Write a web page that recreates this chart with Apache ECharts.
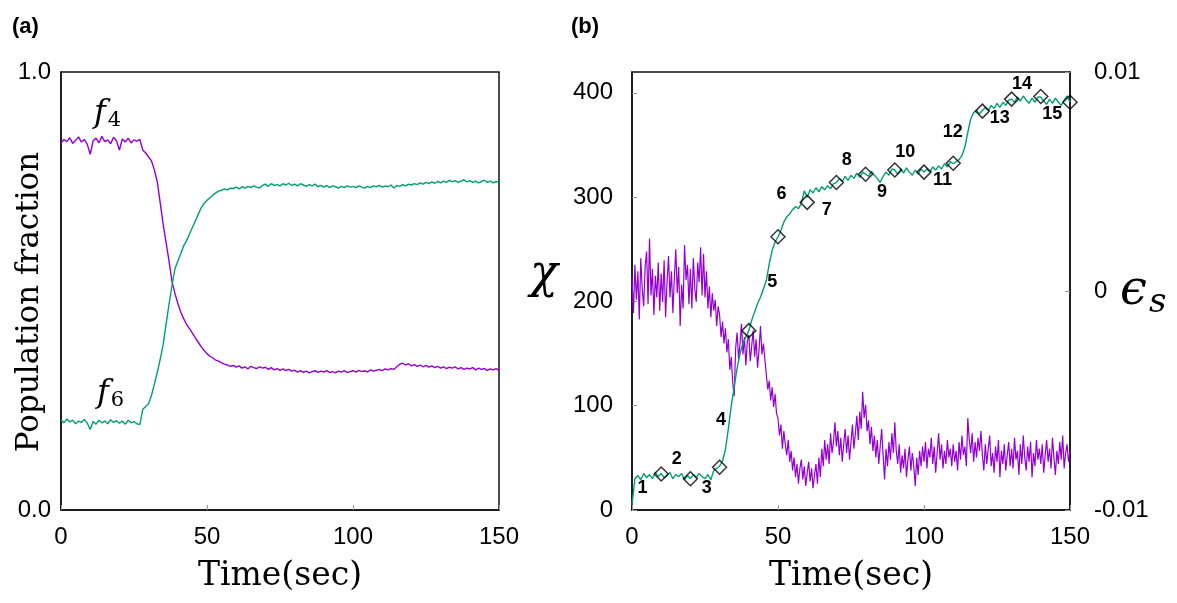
<!DOCTYPE html>
<html>
<head>
<meta charset="utf-8">
<script src="https://cdn.jsdelivr.net/npm/echarts@6/dist/echarts.min.js"></script>
<style>
  html, body { margin: 0; padding: 0; background: #fff; }
  #chart { width: 1177px; height: 603px; }
</style>
</head>
<body>
<div id="chart"></div>
<script>
// sampling steps (sec)
const sampleStep = 1;
const epsStep = 0.5;

// (a) population fractions, one value per second, t = 0..150
const f4 = [
  0.838,0.846,0.841,0.850,0.837,0.844,0.852,0.840,0.846,0.835,
  0.812,0.843,0.849,0.838,0.853,0.841,0.845,0.836,0.851,0.843,
  0.822,0.847,0.840,0.849,0.838,0.845,0.842,0.846,0.822,0.815,
  0.806,0.797,0.776,0.748,0.700,0.652,0.610,0.568,0.522,0.495,
  0.472,0.452,0.437,0.424,0.414,0.404,0.393,0.383,0.373,0.364,
  0.357,0.351,0.347,0.342,0.340,0.336,0.333,0.331,0.328,0.330,
  0.326,0.329,0.324,0.327,0.322,0.328,0.325,0.323,0.327,0.324,
  0.326,0.321,0.325,0.320,0.323,0.319,0.322,0.318,0.321,0.317,
  0.319,0.315,0.318,0.314,0.317,0.313,0.316,0.318,0.314,0.317,
  0.315,0.318,0.314,0.316,0.313,0.317,0.315,0.318,0.314,0.316,
  0.318,0.315,0.319,0.316,0.318,0.315,0.320,0.317,0.319,0.321,
  0.318,0.322,0.320,0.323,0.321,0.327,0.333,0.335,0.331,0.334,
  0.329,0.332,0.328,0.331,0.327,0.330,0.326,0.329,0.325,0.328,
  0.324,0.327,0.323,0.326,0.324,0.327,0.322,0.325,0.321,0.324,
  0.322,0.325,0.320,0.324,0.321,0.323,0.319,0.322,0.320,0.323,0.319
];
const f6 = [
  0.206,0.199,0.208,0.201,0.205,0.197,0.203,0.200,0.207,0.198,
  0.184,0.202,0.196,0.205,0.199,0.203,0.197,0.206,0.200,0.204,
  0.198,0.203,0.196,0.205,0.199,0.202,0.197,0.195,0.230,0.236,
  0.243,0.262,0.288,0.315,0.345,0.378,0.425,0.470,0.512,0.550,
  0.568,0.585,0.603,0.615,0.630,0.645,0.660,0.675,0.690,0.700,
  0.707,0.713,0.719,0.724,0.728,0.730,0.733,0.731,0.735,0.734,
  0.737,0.733,0.738,0.735,0.739,0.736,0.740,0.737,0.735,0.741,
  0.744,0.739,0.745,0.741,0.743,0.740,0.745,0.742,0.746,0.741,
  0.744,0.740,0.745,0.742,0.739,0.743,0.740,0.744,0.738,0.741,
  0.737,0.741,0.736,0.740,0.738,0.735,0.739,0.736,0.740,0.737,
  0.739,0.736,0.740,0.737,0.735,0.739,0.736,0.740,0.738,0.741,
  0.737,0.740,0.738,0.742,0.735,0.741,0.739,0.743,0.740,0.744,
  0.742,0.745,0.743,0.747,0.744,0.748,0.745,0.749,0.746,0.750,
  0.747,0.751,0.748,0.753,0.749,0.752,0.748,0.751,0.754,0.749,
  0.752,0.748,0.751,0.747,0.750,0.753,0.748,0.751,0.747,0.750,0.749
];

// (b) chi (left axis), one value per second, t = 0..150
const chi = [
  5,30,33,29,35,31,34,30,36,32,
  35,31,33,36,30,34,32,35,29,33,
  30,34,31,35,32,30,34,29,38,40,
  42,47,58,78,100,118,136,150,160,166,
  172,182,190,198,204,212,220,236,249,257,
  262,268,276,281,284,288,291,289,294,306,
  300,307,304,309,305,310,307,311,308,313,
  314,318,315,320,316,321,318,323,319,324,
  322,320,325,321,318,314,320,324,321,327,
  326,322,327,323,328,324,321,326,322,327,
  324,327,324,329,326,330,327,332,329,334,
  332,334,336,340,348,362,375,381,383,380,
  383,386,383,388,385,390,386,391,388,393,
  394,391,396,392,397,393,390,395,391,396,
  396,392,389,394,390,395,391,388,393,397,391
];

// (b) epsilon_s (right axis), every 0.5 s, t = 0..150
const epsS = [
  0.0006,-0.0010,0.0012,-0.0004,0.0009,-0.0013,0.0015,0.0001,-0.0007,0.0011,
  0.0018,-0.0006,0.0024,-0.0002,0.0010,-0.0011,0.0007,-0.0003,0.0013,-0.0009,
  0.0008,-0.0005,0.0014,-0.0012,0.0004,0.0016,-0.0003,0.0009,-0.0010,0.0006,
  0.0019,-0.0001,0.0011,-0.0016,0.0003,-0.0008,0.0021,0.0005,0.0012,-0.0006,
  0.0010,-0.0008,0.0015,0.0001,-0.0005,0.0013,0.0004,0.0020,-0.0002,0.0017,
  -0.0003,0.0009,-0.0008,0.0002,-0.0012,-0.0001,-0.0009,-0.0004,-0.0016,-0.0007,
  -0.0011,-0.0021,-0.0014,-0.0024,-0.0017,-0.0028,-0.0022,-0.0036,-0.0030,-0.0042,
  -0.0048,-0.0026,-0.0019,-0.0031,-0.0024,-0.0015,-0.0029,-0.0021,-0.0034,-0.0023,
  -0.0020,-0.0032,-0.0025,-0.0018,-0.0030,-0.0022,-0.0035,-0.0027,-0.0016,-0.0029,
  -0.0024,-0.0031,-0.0038,-0.0045,-0.0041,-0.0050,-0.0044,-0.0053,-0.0047,-0.0056,
  -0.0058,-0.0066,-0.0061,-0.0072,-0.0064,-0.0070,-0.0075,-0.0068,-0.0078,-0.0073,
  -0.0082,-0.0076,-0.0085,-0.0079,-0.0088,-0.0081,-0.0077,-0.0086,-0.0080,-0.0089,
  -0.0083,-0.0078,-0.0087,-0.0081,-0.0090,-0.0084,-0.0079,-0.0088,-0.0076,-0.0085,
  -0.0072,-0.0080,-0.0068,-0.0077,-0.0070,-0.0079,-0.0065,-0.0074,-0.0069,-0.0060,
  -0.0071,-0.0064,-0.0075,-0.0067,-0.0078,-0.0070,-0.0063,-0.0074,-0.0066,-0.0077,
  -0.0069,-0.0061,-0.0072,-0.0065,-0.0057,-0.0068,-0.0055,-0.0063,-0.0046,-0.0058,
  -0.0052,-0.0064,-0.0059,-0.0070,-0.0062,-0.0073,-0.0066,-0.0076,-0.0068,-0.0079,
  -0.0071,-0.0063,-0.0075,-0.0086,-0.0072,-0.0080,-0.0069,-0.0077,-0.0065,-0.0074,
  -0.0060,-0.0073,-0.0079,-0.0070,-0.0083,-0.0075,-0.0081,-0.0072,-0.0085,-0.0077,
  -0.0071,-0.0082,-0.0074,-0.0080,-0.0089,-0.0076,-0.0084,-0.0073,-0.0080,-0.0071,
  -0.0078,-0.0069,-0.0081,-0.0072,-0.0076,-0.0067,-0.0079,-0.0071,-0.0083,-0.0074,
  -0.0065,-0.0077,-0.0070,-0.0081,-0.0073,-0.0079,-0.0068,-0.0076,-0.0072,-0.0080,
  -0.0070,-0.0078,-0.0073,-0.0082,-0.0069,-0.0077,-0.0066,-0.0075,-0.0071,-0.0080,
  -0.0058,-0.0068,-0.0074,-0.0065,-0.0078,-0.0069,-0.0076,-0.0067,-0.0073,-0.0064,
  -0.0075,-0.0082,-0.0070,-0.0079,-0.0072,-0.0066,-0.0080,-0.0074,-0.0083,-0.0071,
  -0.0078,-0.0068,-0.0085,-0.0073,-0.0079,-0.0070,-0.0082,-0.0075,-0.0069,-0.0080,
  -0.0072,-0.0081,-0.0067,-0.0077,-0.0073,-0.0084,-0.0070,-0.0079,-0.0066,-0.0076,
  -0.0082,-0.0071,-0.0078,-0.0069,-0.0085,-0.0074,-0.0080,-0.0068,-0.0077,-0.0072,
  -0.0079,-0.0070,-0.0083,-0.0075,-0.0068,-0.0078,-0.0072,-0.0081,-0.0067,-0.0076,
  -0.0084,-0.0073,-0.0079,-0.0069,-0.0077,-0.0066,-0.0081,-0.0074,-0.0070,-0.0078,
  -0.0073
];

// numbered marks on chi
const stepTimes = [10,20,30,40,50,60,70,80,90,100,110,120,130,140,150];
const stepChi = [34.5,30,41,172,262,295,314,322,326,324,332.5,382.5,394,396.5,391];
const stepLabels = ["1","2","3","4","5","6","7","8","9","10","11","12","13","14","15"];

const xTicks = [0, 50, 100, 150];
const fracTicks = [0, 1];
const chiTicks = [0, 100, 200, 300, 400];
const epsTicks = [-0.01, 0, 0.01];

// label placement relative to each diamond centre (px)
const labelOffsets = [
  [-18,15],[-13,-19],[-12,22],[-27,90],[-5,46],[-25,-8],[-9,28],[-18,-13],
  [-12,23],[-18,-19],[-10,18],[-29,22],[-11,20],[-18,-12],[-17,13]
];

const PURPLE = "#9400d3";
const GREEN = "#009e73";
const DIAMOND = 14;
const tickFont = { fontFamily: "Liberation Sans", fontSize: 24, color: "#000" };
const serif = "DejaVu Serif";

const pairs = (arr, step) => arr.map((v, i) => [i * step, v]);

function xAxisFor(gridIndex) {
  return {
    type: "value", gridIndex: gridIndex,
    min: xTicks[0], max: xTicks[xTicks.length - 1], interval: xTicks[1] - xTicks[0],
    axisLine: { show: true, lineStyle: { color: "#111", width: 1.5 } },
    axisTick: { inside: true, length: 5, lineStyle: { color: "#999" } },
    axisLabel: Object.assign({ margin: 15 }, tickFont),
    splitLine: { show: false },
    name: "Time(sec)", nameLocation: "middle", nameGap: 50,
    nameTextStyle: { fontFamily: serif, fontSize: 33, color: "#000" }
  };
}

// subscripted symbol like f_4
function subText(main, sub, size, subSize, drop) {
  return {
    text: "{m|" + main + "}{s|" + sub + "}",
    rich: {
      m: { fontFamily: serif, fontStyle: "italic", fontSize: size, fill: "#000" },
      s: { fontFamily: serif, fontSize: subSize, fill: "#000", padding: [drop, 0, 0, 2] }
    }
  };
}

let chart = echarts.init(document.getElementById("chart"));
chart.setOption({
  animation: false,
  backgroundColor: "#fff",
  grid: [
    { left: 61, top: 72, width: 438, height: 438, show: true, borderColor: "#111", borderWidth: 1.5, outerBoundsMode: "none" },
    { left: 632, top: 72, width: 438, height: 438, show: true, borderColor: "#111", borderWidth: 1.5, outerBoundsMode: "none" }
  ],
  xAxis: [xAxisFor(0), xAxisFor(1)],
  yAxis: [
    {
      type: "value", gridIndex: 0,
      min: fracTicks[0], max: fracTicks[1], interval: 1,
      axisLine: { show: true, lineStyle: { color: "#111", width: 1.5 } },
      axisTick: { show: false },
      axisLabel: Object.assign({ margin: 10, formatter: v => v.toFixed(1) }, tickFont),
      splitLine: { show: false }
    },
    {
      type: "value", gridIndex: 1,
      min: 0, max: 420, interval: chiTicks[1] - chiTicks[0],
      axisLine: { show: true, lineStyle: { color: "#111", width: 1.5 } },
      axisTick: { inside: true, length: 5, lineStyle: { color: "#999" } },
      axisLabel: Object.assign({ margin: 19, showMaxLabel: false }, tickFont),
      splitLine: { show: false }
    },
    {
      type: "value", gridIndex: 1, position: "right",
      min: epsTicks[0], max: epsTicks[2], interval: epsTicks[2] - epsTicks[1],
      axisLine: { show: true, lineStyle: { color: "#111", width: 1.5 } },
      axisTick: { inside: true, length: 5, lineStyle: { color: "#999" } },
      axisLabel: Object.assign({ margin: 24, formatter: v => (v === 0 ? "0" : v.toFixed(2)) }, tickFont),
      splitLine: { show: false }
    }
  ],
  graphic: [
    { type: "text", left: 12, top: 16, style: { text: "(a)", font: "bold 22px 'Liberation Sans'", fill: "#000" } },
    { type: "text", left: 571, top: 16, style: { text: "(b)", font: "bold 22px 'Liberation Sans'", fill: "#000" } },
    { type: "text", x: 30, y: 302, rotation: Math.PI / 2,
      style: { text: "Population fraction", font: "31px 'DejaVu Serif'", fill: "#000", align: "center", verticalAlign: "middle" } },
    { type: "text", left: 94, top: 98, style: subText("f", "4", 32, 21, 14) },
    { type: "text", left: 97, top: 378, style: subText("f", "6", 32, 21, 14) },
    { type: "text", left: 530, top: 252, style: { text: "χ", font: "italic 46px 'DejaVu Serif'", fill: "#000" } },
    { type: "text", left: 1120, top: 268, style: {
        text: "{e|ϵ}{s|s}",
        rich: {
          e: { fontFamily: serif, fontStyle: "italic", fontSize: 48, fill: "#000" },
          s: { fontFamily: serif, fontStyle: "italic", fontSize: 34, fill: "#000", padding: [22, 0, 0, 2] }
        } } }
  ],
  series: [
    {
      name: "f4", type: "line", xAxisIndex: 0, yAxisIndex: 0, data: pairs(f4, sampleStep),
      showSymbol: false, lineStyle: { color: PURPLE, width: 1.4 }, z: 2
    },
    {
      name: "f6", type: "line", xAxisIndex: 0, yAxisIndex: 0, data: pairs(f6, sampleStep),
      showSymbol: false, lineStyle: { color: GREEN, width: 1.4 }, z: 2
    },
    {
      name: "epsilon_s", type: "line", xAxisIndex: 1, yAxisIndex: 2, data: pairs(epsS, epsStep),
      showSymbol: false, lineStyle: { color: PURPLE, width: 1.2 }, z: 2
    },
    {
      name: "chi", type: "line", xAxisIndex: 1, yAxisIndex: 1, data: pairs(chi, sampleStep),
      showSymbol: false, lineStyle: { color: GREEN, width: 1.4 }, z: 3
    },
    {
      name: "steps", type: "scatter", xAxisIndex: 1, yAxisIndex: 1,
      symbol: "diamond", symbolSize: DIAMOND, z: 4,
      itemStyle: { color: "rgba(0,0,0,0)", borderColor: "#000", borderWidth: 1.5 },
      data: stepTimes.map((t, i) => ({
        value: [t, stepChi[i]],
        label: {
          show: true, formatter: stepLabels[i],
          position: [DIAMOND / 2 + labelOffsets[i][0], DIAMOND / 2 + labelOffsets[i][1]],
          align: "center", verticalAlign: "middle",
          fontFamily: "Liberation Sans", fontWeight: "bold", fontSize: 18,
          color: "#000", opacity: 1, textBorderWidth: 0
        }
      }))
    }
  ]
});
</script>
</body>
</html>
